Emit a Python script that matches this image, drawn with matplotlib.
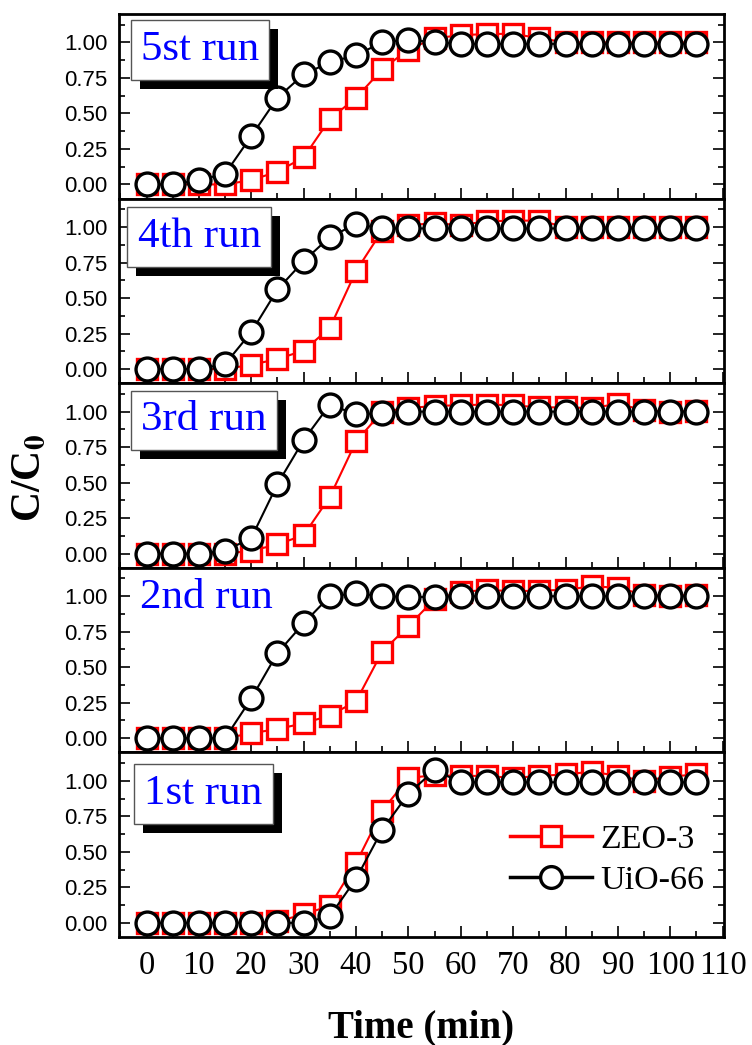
import matplotlib
matplotlib.use('Agg')
import matplotlib.pyplot as plt
import matplotlib.patheffects as pe
from matplotlib.ticker import MultipleLocator, FormatStrFormatter

plt.rcParams['mathtext.fontset'] = 'stix'

time = [0, 5, 10, 15, 20, 25, 30, 35, 40, 45, 50, 55, 60, 65, 70, 75, 80, 85, 90, 95, 100, 105]

# panels from top to bottom
run_labels = ['5st run', '4th run', '3rd run', '2nd run', '1st run']

zeo_5 = [0, 0, 0, 0, 0.03, 0.09, 0.19, 0.46, 0.61, 0.81, 0.95, 1.03, 1.05, 1.06, 1.06, 1.03, 1.0, 1.0, 1.0, 1.0, 1.0, 1.0]
uio_5 = [0, 0, 0.03, 0.075, 0.34, 0.61, 0.775, 0.86, 0.91, 1.0, 1.02, 1.0, 0.99, 0.99, 0.99, 0.99, 0.99, 0.99, 0.99, 0.99, 0.99, 0.99]

zeo_4 = [0, 0, 0, 0, 0.03, 0.07, 0.13, 0.29, 0.69, 0.975, 1.015, 1.025, 1.015, 1.04, 1.045, 1.045, 1.0, 1.0, 1.0, 1.0, 1.0, 1.0]
uio_4 = [0, 0, 0, 0.035, 0.26, 0.56, 0.76, 0.93, 1.02, 0.99, 0.99, 0.99, 0.99, 0.99, 0.99, 0.99, 0.99, 0.99, 0.99, 0.99, 0.99, 0.99]

zeo_3 = [0, 0, 0, 0, 0.02, 0.065, 0.13, 0.40, 0.79, 1.0, 1.025, 1.04, 1.045, 1.05, 1.045, 1.03, 1.03, 1.025, 1.055, 1.01, 1.0, 1.005]
uio_3 = [0, 0, 0, 0.02, 0.11, 0.49, 0.80, 1.05, 0.98, 0.99, 1.0, 1.0, 1.0, 1.0, 1.0, 1.0, 1.0, 1.0, 1.0, 1.0, 1.0, 1.0]

zeo_2 = [0, 0, 0, 0, 0.035, 0.065, 0.105, 0.16, 0.26, 0.61, 0.79, 0.98, 1.03, 1.045, 1.035, 1.04, 1.045, 1.07, 1.06, 1.01, 1.005, 1.01]
uio_2 = [0, 0, 0, 0, 0.28, 0.60, 0.81, 1.0, 1.02, 1.0, 0.995, 0.995, 1.0, 1.0, 1.0, 1.0, 1.0, 1.0, 1.0, 1.0, 1.0, 1.0]

zeo_1 = [0, 0, 0, 0, 0, 0.01, 0.06, 0.12, 0.42, 0.79, 1.02, 1.04, 1.035, 1.035, 1.02, 1.035, 1.045, 1.065, 1.035, 1.0, 1.03, 1.045]
uio_1 = [0, 0, 0, 0, 0, 0, 0, 0.047, 0.31, 0.655, 0.91, 1.075, 0.99, 0.99, 0.99, 0.99, 0.99, 0.99, 0.99, 0.99, 0.99, 0.99]

zeo_runs = [zeo_5, zeo_4, zeo_3, zeo_2, zeo_1]
uio_runs = [uio_5, uio_4, uio_3, uio_2, uio_1]

# label box centres (axes fraction) and whether the label has a box
label_pos = [(0.134, 0.805), (0.133, 0.792), (0.141, 0.80), (0.144, 0.836), (0.140, 0.775)]
label_box = [True, True, True, False, True]

fig, axes = plt.subplots(5, 1, sharex=True, figsize=(7.52, 10.45), dpi=100)
fig.subplots_adjust(left=0.158, right=0.963, top=0.9866, bottom=0.1033, hspace=0)

for i, ax in enumerate(axes):
    ax.plot(time, zeo_runs[i], color='#ff0000', lw=1.5, marker='s', ms=15,
            mfc='white', mec='#ff0000', mew=2.4, label='ZEO-3', zorder=3)
    ax.plot(time, uio_runs[i], color='black', lw=1.5, marker='o', ms=16.5,
            mfc='white', mec='black', mew=2.4, label='UiO-66', zorder=4)

    ax.set_xlim(-5.3, 110.3)
    ax.set_ylim(-0.1, 1.2)
    ax.xaxis.set_major_locator(MultipleLocator(10))
    ax.xaxis.set_minor_locator(MultipleLocator(5))
    ax.yaxis.set_major_locator(MultipleLocator(0.25))
    ax.yaxis.set_minor_locator(MultipleLocator(0.125))
    ax.yaxis.set_major_formatter(FormatStrFormatter('%.2f'))
    ax.tick_params(which='both', direction='in', top=False, right=True, width=1.2)
    ax.tick_params(which='major', length=8)
    ax.tick_params(which='minor', length=4.5)
    ax.tick_params(axis='y', pad=8, labelsize=16)
    for lab in ax.get_yticklabels():
        lab.set_fontfamily('Liberation Sans')
    for sp in ax.spines.values():
        sp.set_linewidth(2)

    t = ax.text(label_pos[i][0], label_pos[i][1], run_labels[i], transform=ax.transAxes,
                ha='center', va='center', fontsize=31, color='#0000ff',
                fontfamily='Liberation Serif', zorder=6)
    if label_box[i]:
        t.set_bbox(dict(boxstyle='square,pad=0.24', fc='white', ec='#555555', lw=1))
        t.get_bbox_patch().set_path_effects([
            pe.SimplePatchShadow(offset=(6.5, -6.5), shadow_rgbFace='black', alpha=1.0),
            pe.Normal()])

bottom = axes[-1]
bottom.tick_params(axis='x', pad=10, labelsize=23.5)
for lab in bottom.get_xticklabels():
    lab.set_fontfamily('Liberation Serif')
bottom.set_xlabel('Time (min)', fontsize=28, fontweight='bold',
                  fontfamily='Liberation Serif', labelpad=20)

leg = bottom.legend(loc='center left', bbox_to_anchor=(0.646, 0.417), frameon=False,
                    prop={'family': 'Liberation Serif', 'size': 24.5},
                    handlelength=2.4, handletextpad=0.25, labelspacing=0.3,
                    borderpad=0, borderaxespad=0, markerscale=0.95)
for ln in leg.get_lines():
    ln.set_linewidth(2.5)

fig.text(0.04, 1 - 478 / 1045, 'C/C$_{\\mathbf{0}}$', rotation=90, ha='center', va='center',
         fontsize=30, fontweight='bold', fontfamily='Liberation Serif')

fig.savefig('out.png', dpi=100)
